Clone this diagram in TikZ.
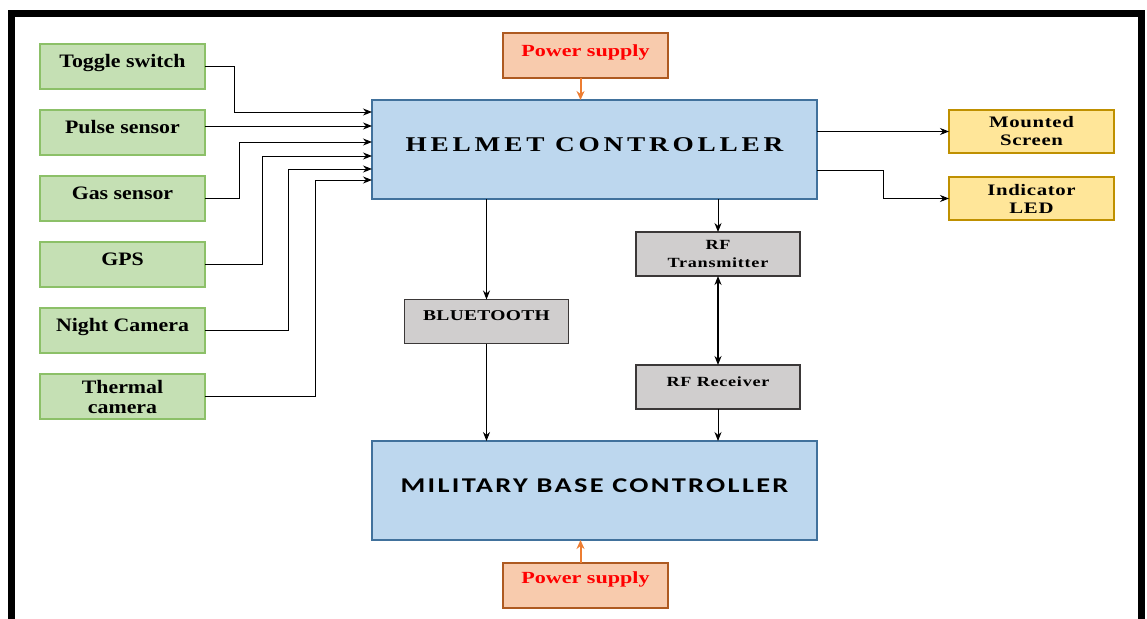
\documentclass[tikz,border=0pt]{standalone}
\usepackage{fontspec}
\usepackage{xcolor}
\usepackage{tikz}
\usetikzlibrary{arrows.meta, positioning}
\newfontfamily\boxfont{Liberation Serif}[FakeStretch=1.15]
\newfontfamily\widefont{Liberation Serif}[FakeStretch=1.3]
\newfontfamily\sansboxfont{Carlito}[FakeStretch=1.35]
\definecolor{sensorfill}{HTML}{C5E0B4}
\definecolor{sensordraw}{HTML}{8CC068}
\definecolor{hubfill}{HTML}{BDD7EE}
\definecolor{hubdraw}{HTML}{41719C}
\definecolor{dispfill}{HTML}{FFE699}
\definecolor{dispdraw}{HTML}{BF9000}
\definecolor{radiofill}{HTML}{D0CECE}
\definecolor{radiodraw}{HTML}{3B3838}
\definecolor{powerfill}{HTML}{F8CBAD}
\definecolor{powerdraw}{HTML}{AE5A21}
\definecolor{powerarrow}{HTML}{ED7D31}
\tikzstyle{arrow} = [line width=1pt,->,>={Stealth[length=9pt,width=7pt]}]

\begin{document}
\begin{tikzpicture}[x=1pt, y=-1pt,
            box/.style={rectangle, inner sep=0pt, outer sep=0pt, line width=1.2pt, text centered, align=center},
            lift/.style={text depth=10pt, text height=#1},
            sensor/.style={box, fill=sensorfill, draw=sensordraw, minimum width=165pt, minimum height=45pt, font=\boxfont\bfseries\fontsize{19}{20}\selectfont},
            hub/.style={box, fill=hubfill, draw=hubdraw, minimum width=445pt, minimum height=99pt},
            disp/.style={box, fill=dispfill, draw=dispdraw, minimum width=165pt, minimum height=43pt, font=\widefont\bfseries\fontsize{16}{18}\selectfont\addfontfeature{LetterSpace=4}},
            radio/.style={box, fill=radiofill, draw=radiodraw, minimum width=164pt, minimum height=44pt, font=\widefont\bfseries\fontsize{14}{18}\selectfont\addfontfeature{LetterSpace=5}},
            power/.style={box, fill=powerfill, draw=powerdraw, minimum width=165pt, minimum height=45pt, text=red, font=\widefont\bfseries\fontsize{17}{20}\selectfont}]

            \useasboundingbox (0,0) rectangle (1147,618);
            \clip (0,0) rectangle (1147,618);

            % Frame
            \draw[line width=7pt] (11.5,640) -- (11.5,13.5) -- (1141.5,13.5) -- (1141.5,640);

            % Controllers
            \node[hub, lift=14.5pt, font=\widefont\bfseries\fontsize{21}{24}\selectfont\addfontfeature{LetterSpace=18}] (helmet) at (594.5,149.5) {HELMET CONTROLLER};
            \node[hub, lift=14.5pt, below=242pt of helmet, font=\sansboxfont\bfseries\fontsize{21}{24}\selectfont\addfontfeature{LetterSpace=11}] (base) {MILITARY BASE CONTROLLER};

            % Power supplies
            \node[power, lift=12.2pt, above=22pt of helmet, xshift=-9pt] (pstop) {Power supply};
            \node[power, lift=5.2pt, below=23pt of base, xshift=-9pt] (psbot) {Power supply};

            % Sensors
            \node[sensor, lift=12.6pt] (toggle) at (122.5,66.5) {Toggle switch};
            \node[sensor, lift=12.6pt, below=21pt of toggle] (pulse) {Pulse sensor};
            \node[sensor, lift=12.6pt, below=21pt of pulse] (gas) {Gas sensor};
            \node[sensor, lift=12.6pt, below=21pt of gas] (gps) {GPS};
            \node[sensor, lift=12.6pt, below=21pt of gps] (night) {Night Camera};
            \node[sensor, below=21pt of night] (thermal) {Thermal\\camera};

            % Outputs
            \node[disp] (screen) at (1031.5,131.5) {Mounted\\Screen};
            \node[disp, below=24pt of screen] (led) {Indicator\\LED};

            % Links
            \node[radio] (rftx) at (718,254) {RF\\Transmitter};
            \node[radio, lift=8.3pt, below=89pt of rftx] (rfrx) {RF Receiver};
            \node[radio, lift=8.3pt, font=\widefont\bfseries\fontsize{15}{18}\selectfont\addfontfeature{LetterSpace=2}] (bt) at (486.5,321.5) {BLUETOOTH};

            % Arrows
            \draw[arrow] (toggle.east) -- ++(29,0) |- ([yshift=37.5pt]helmet.west);
            \draw[arrow] ([yshift=23.5pt]helmet.west -| pulse.east) -- ([yshift=23.5pt]helmet.west);
            \draw[arrow] (gas.east) -- ++(34,0) |- ([yshift=7.5pt]helmet.west);
            \draw[arrow] (gps.east) -- ++(57,0) |- ([yshift=-6.5pt]helmet.west);
            \draw[arrow] (night.east) -- ++(83,0) |- ([yshift=-19.5pt]helmet.west);
            \draw[arrow] (thermal.east) -- ++(110,0) |- ([yshift=-30.5pt]helmet.west);
            \draw[arrow] (screen.west -| helmet.east) -- (screen.west);
            \draw[arrow] ([yshift=-20.5pt]helmet.east) -- ++(66,0) |- (led.west);
            \draw[arrow] (rftx.north |- helmet.south) -- (rftx.north);
            \draw[arrow] (bt.north |- helmet.south) -- (bt.north);
            \draw[arrow] (bt.south) -- (bt.south |- base.north);
            \draw[arrow, <->, line width=2.5pt] (rftx) -- (rfrx);
            \draw[arrow] (rfrx.south) -- (rfrx.south |- base.north);
            \draw[arrow, draw=powerarrow, line width=2pt, >={Stealth[length=9pt,width=8pt]}] ([xshift=-5pt]pstop.south) -- ([xshift=-5pt]pstop.south |- helmet.north);
            \draw[arrow, draw=powerarrow, line width=2pt, >={Stealth[length=9pt,width=8pt]}] ([xshift=-5pt]psbot.north) -- ([xshift=-5pt]psbot.north |- base.south);
        \end{tikzpicture}
\end{document}
